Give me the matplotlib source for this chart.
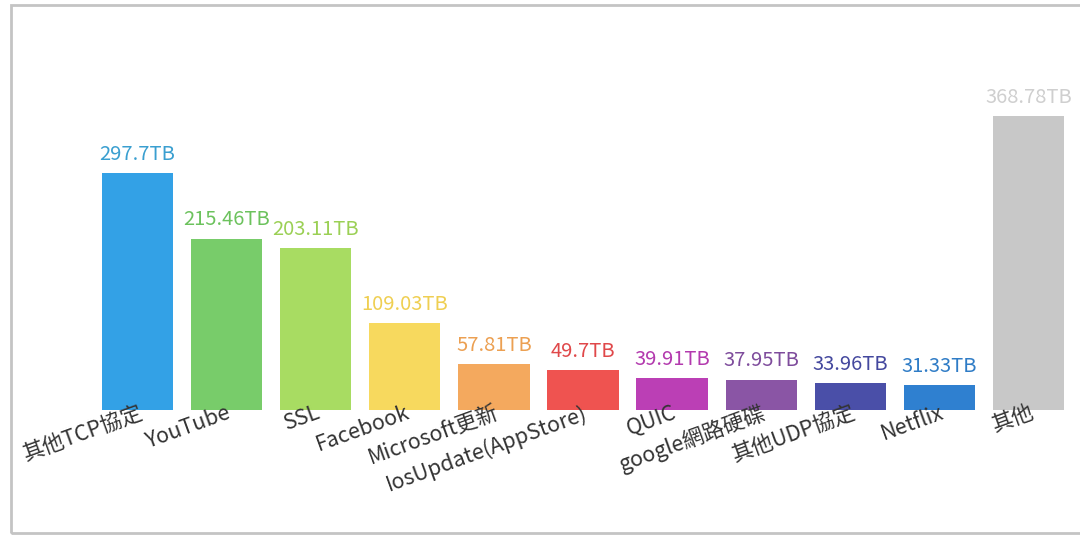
import matplotlib.pyplot as plt
from matplotlib.patches import Rectangle

plt.rcParams['font.family'] = ['Noto Sans CJK TC', 'DejaVu Sans']

# data
apps = ["其他TCP協定", "YouTube", "SSL", "Facebook", "Microsoft更新",
        "IosUpdate(AppStore)", "QUIC", "google網路硬碟", "其他UDP協定",
        "Netflix", "其他"]
traffic = [297.7, 215.46, 203.11, 109.03, 57.81, 49.7, 39.91, 37.95,
           33.96, 31.33, 368.78]
value_labels = ["297.7TB", "215.46TB", "203.11TB", "109.03TB", "57.81TB",
                "49.7TB", "39.91TB", "37.95TB", "33.96TB", "31.33TB",
                "368.78TB"]
bar_colors = ["#33a1e6", "#78cc6a", "#a8dc62", "#f7d95e", "#f4a95e",
              "#ef5350", "#bb3fb5", "#8a55a5", "#4a4fa8", "#2f80d0",
              "#c8c8c8"]
text_colors = ["#3a9fd0", "#6cc25d", "#9bd055", "#efcf52", "#eca052",
               "#e0484a", "#b33aae", "#7e4c9c", "#44489e", "#2f7cc6",
               "#cfcfcf"]

fig = plt.figure(figsize=(10.8, 5.37), dpi=100)

# screenshot frame
fig.patches.append(Rectangle((11 / 1080, 4 / 537), 1.2, 528 / 537,
                             transform=fig.transFigure, fill=False,
                             edgecolor="#c4c4c4", linewidth=2.0))

ax = fig.add_axes([93 / 1080, 127 / 537, 980 / 1080, 390 / 537])
x = range(len(apps))
ax.bar(x, traffic, width=0.8, color=bar_colors)

for i, v in enumerate(traffic):
    ax.annotate(value_labels[i], (i, v), xytext=(0, 6), textcoords="offset points",
                ha="center", va="bottom", fontsize=14.5, color=text_colors[i])

ax.set_xlim(-0.5, len(apps) - 0.5)
ax.set_ylim(0, 490)
ax.set_xticks(list(x))
ax.set_xticklabels(apps, rotation=20, ha="right", rotation_mode="anchor",
                   fontsize=15.5, color="#333333")
ax.tick_params(axis="x", length=0, pad=-6)
ax.set_yticks([])
for s in ax.spines.values():
    s.set_visible(False)

fig.savefig("out.png", dpi=100)
